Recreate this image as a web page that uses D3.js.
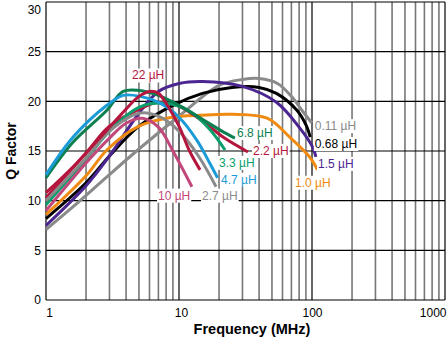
<!DOCTYPE html>
<html><head><meta charset="utf-8">
<script src="https://cdn.jsdelivr.net/npm/d3@7"></script>
<style>body{margin:0;background:#fff}svg{display:block}</style>
</head><body><svg id="c" width="448" height="342"></svg>
<script>
const xTicks = [1, 10, 100, 1000];
const yTicks = [0, 5, 10, 15, 20, 25, 30];
const xTitle = "Frequency (MHz)";
const yTitle = "Q Factor";

// [frequency MHz, Q]
const L011 = [[1,7.1],[1.6,9.4],[2.87,12.4],[5.1,15.3],[10,18.5],[20,21.6],[30,22.2],[40,22.3],[55,21.8],[70,20.5],[85,19],[100,17.8]];
const L068 = [[1,8.2],[2,11.8],[3,14.5],[5,17.5],[9,19.6],[15,20.8],[25,21.4],[40,21.4],[54,20.8],[77,19.1],[91,17.5],[97,16.4]];
const L15  = [[1,7.5],[2,11.5],[3,14.5],[5,18.8],[7,21],[10,21.8],[15,22],[30,21.5],[54,19.9],[81,17.3],[101,15.4],[107,14.4]];
const L10  = [[1,8.6],[2,12.5],[2.87,15.1],[5,17.5],[9,18.4],[14.4,18.6],[25,18.7],[46,18.3],[68,16.4],[96,14.4],[110,13.1]];
const L22  = [[1,10.3],[2,14.8],[3,17.5],[5,19.2],[7,19.9],[10,19.5],[15,18],[22,16.3],[33,14.9]];
const L33  = [[1,9.6],[2,14.2],[3,17],[5,19.4],[8,19.8],[12,19],[17,17.2],[22.2,15.1]];
const L68  = [[1,12.3],[1.6,15.9],[2.87,19.1],[3.8,21],[5,21.1],[7,20.6],[10,19.6],[15,18.2],[21,17],[26.3,16.3]];
const L47  = [[1,12.6],[1.6,16.4],[2.87,19.6],[3.8,20.6],[5.1,20.5],[7.5,19.7],[10,18.4],[13.6,16.1],[17,13.8],[19.5,12.3]];
const L27  = [[1,10],[2,14.3],[3,17],[5,18.8],[7,18.5],[10,17],[14,14.5],[19,11.4]];
const L100 = [[1,9],[2,13.8],[3,16.3],[4,17.8],[5.3,18.3],[7,17.4],[9,15],[12.5,11.4]];
const L220 = [[1,10.8],[1.6,13.4],[2.87,17.1],[3.8,18.9],[5,20.5],[6,21],[7,20.8],[8,19.8],[10,17.5],[12,15],[14.4,13.1]];

const seriesNames  = ["0.11 µH","0.68 µH","1.5 µH","1.0 µH","2.2 µH","3.3 µH","6.8 µH","4.7 µH","2.7 µH","10 µH","22 µH"];
const seriesData   = [L011, L068, L15, L10, L22, L33, L68, L47, L27, L100, L220];
const seriesColors = ["#8a8a8a","#000000","#4b2590","#ef8a12","#b5163d","#0a9e6c","#0b7f50","#1b9bd7","#8a8a8a","#c2477a","#b5163d"];
// label anchor (frequency MHz, Q) = left end of text baseline
const labelF = [105, 105, 111, 74.6, 36, 20, 27.3, 20.7, 14.9, 6.95, 4.43];
const labelQ = [17.1, 15.3, 13.3, 11.4, 14.6, 13.4, 16.4, 11.7, 10.1, 10.1, 22.2];

const svg = d3.select("#c");
const x = d3.scaleLog().domain([1, 1000]).range([46, 445]);
const y = d3.scaleLinear().domain([0, 30]).range([300, 2]);
const FONT = "Liberation Sans, Arial, sans-serif";

// grid
const minor = [];
for (let d = 1; d < 1000; d *= 10) for (let k = 2; k <= 9; k++) minor.push(d * k);
svg.append("g").selectAll("line").data(minor).join("line")
  .attr("x1", d => x(d)).attr("x2", d => x(d)).attr("y1", y(0)).attr("y2", y(30))
  .attr("stroke", "#777").attr("stroke-width", 1.6);
svg.append("g").selectAll("line").data(xTicks).join("line")
  .attr("x1", d => x(d)).attr("x2", d => x(d)).attr("y1", y(0)).attr("y2", y(30))
  .attr("stroke", "#000").attr("stroke-width", 1.2);
svg.append("g").selectAll("line").data(yTicks).join("line")
  .attr("x1", x(1)).attr("x2", x(1000)).attr("y1", d => y(d)).attr("y2", d => y(d))
  .attr("stroke", "#000").attr("stroke-width", 1.2);

// axes labels
const xAxis = d3.axisBottom(x).tickValues(xTicks).tickFormat(d3.format("d")).tickSize(0).tickPadding(8);
const gx = svg.append("g").attr("transform", `translate(0,${y(0)})`).call(xAxis);
gx.select(".domain").remove();
gx.selectAll("text").attr("font-family", FONT).attr("font-size", 12).attr("fill", "#000");
gx.selectAll("text").filter(d => d === 1000).attr("text-anchor", "end").attr("dx", 1);
gx.selectAll("text").filter(d => d === 1).attr("dx", 3);
gx.selectAll("text").filter(d => d === 10).attr("dx", 2);
const yAxis = d3.axisLeft(y).tickValues(yTicks).tickSize(0).tickPadding(5);
const gy = svg.append("g").attr("transform", `translate(${x(1)},0)`).call(yAxis);
gy.select(".domain").remove();
gy.selectAll("text").attr("font-family", FONT).attr("font-size", 12).attr("fill", "#000");
gy.selectAll("text").filter(d => d === 30).attr("dy", "0.95em");

// curves
const line = d3.line().x(d => x(d[0])).y(d => y(d[1])).curve(d3.curveCatmullRom.alpha(0.5));
svg.append("g").selectAll("path").data(seriesData).join("path")
  .attr("d", line).attr("fill", "none")
  .attr("stroke", (d, i) => seriesColors[i]).attr("stroke-width", 3)
  .attr("stroke-linecap", "butt");

// labels
const lg = svg.append("g").attr("font-family", FONT).attr("font-size", 12);
seriesNames.forEach((n, i) => {
  const t = lg.append("text").attr("x", x(labelF[i])).attr("y", y(labelQ[i])).text(n).attr("fill", seriesColors[i]);
  const b = t.node().getBBox();
  lg.insert("rect", "text").attr("x", b.x - 1).attr("y", b.y).attr("width", b.width + 2).attr("height", b.height).attr("fill", "#fff");
});

svg.append("text").attr("x", 252).attr("y", 334).attr("text-anchor", "middle")
  .attr("font-family", FONT).attr("font-size", 14.5).attr("font-weight", "bold").text(xTitle);
svg.append("text").attr("transform", `translate(16,${y(15)}) rotate(-90)`).attr("text-anchor", "middle")
  .attr("font-family", FONT).attr("font-size", 14).attr("font-weight", "bold").text(yTitle);
</script></body></html>
